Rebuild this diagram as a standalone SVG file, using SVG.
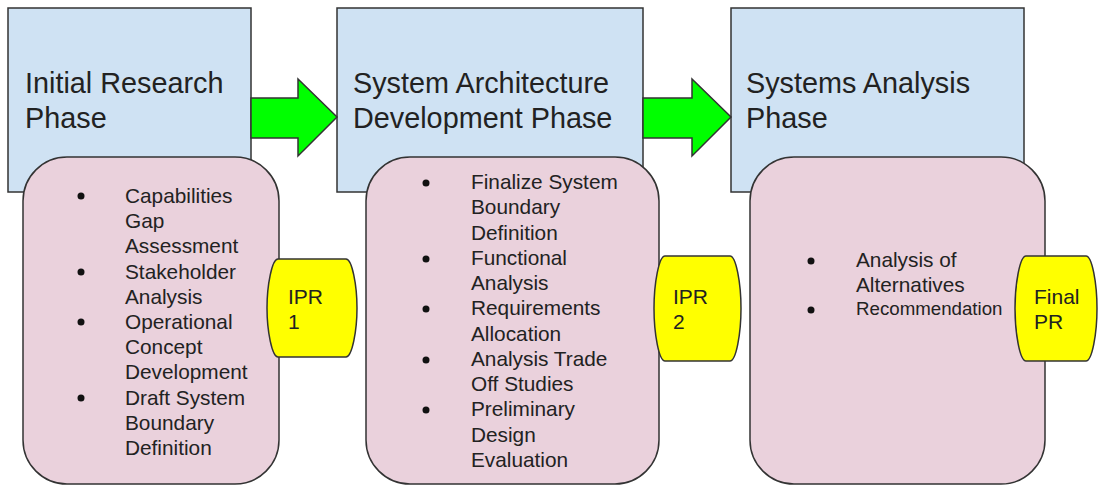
<svg xmlns="http://www.w3.org/2000/svg" width="1098" height="486" viewBox="0 0 1098 486">
<style>
.phase{fill:#cfe2f3;stroke:#333;stroke-width:1.5}
.task{fill:#ead1dc;stroke:#333;stroke-width:1.5}
.rev{fill:#ffff00;stroke:#333;stroke-width:1.5}
.arrow{fill:#00ff00;stroke:#333;stroke-width:1.5;stroke-linejoin:miter}
text{font-family:"Liberation Sans",Arial,sans-serif;fill:#222}
.title{font-size:28.8px}
.item{font-size:20.8px}
.small{font-size:18.7px}
.lab{font-size:21px}
.dot{fill:#111}
</style>
<rect width="1098" height="486" fill="#fff"/>
<g id="phase1">
<rect class="phase" x="8" y="8" width="243" height="184"/>
<text class="title" x="25" y="93">Initial Research</text>
<text class="title" x="25" y="128">Phase</text>
</g>
<g id="phase2">
<rect class="phase" x="337" y="8" width="306" height="184"/>
<text class="title" x="353" y="93">System Architecture</text>
<text class="title" x="353" y="128">Development Phase</text>
</g>
<g id="phase3">
<rect class="phase" x="731" y="8" width="293" height="184"/>
<text class="title" x="746" y="93">Systems Analysis</text>
<text class="title" x="746" y="128">Phase</text>
</g>
<g id="connectors">
<path class="arrow" d="M251,98 H298 V79 L337,117 L298,156 V138 H251 Z"/>
<path class="arrow" d="M643,98 H692 V79 L731,117 L692,156 V138 H643 Z"/>
</g>
<g id="tasks1">
<rect class="task" x="23" y="157" width="256" height="327" rx="44" ry="44"/>
<circle class="dot" cx="81" cy="196" r="3.5"/>
<circle class="dot" cx="81" cy="272" r="3.5"/>
<circle class="dot" cx="81" cy="322" r="3.5"/>
<circle class="dot" cx="81" cy="398" r="3.5"/>
<text class="item" x="125" y="203">Capabilities</text>
<text class="item" x="125" y="228">Gap</text>
<text class="item" x="125" y="253">Assessment</text>
<text class="item" x="125" y="279">Stakeholder</text>
<text class="item" x="125" y="304">Analysis</text>
<text class="item" x="125" y="329">Operational</text>
<text class="item" x="125" y="354">Concept</text>
<text class="item" x="125" y="379">Development</text>
<text class="item" x="125" y="405">Draft System</text>
<text class="item" x="125" y="430">Boundary</text>
<text class="item" x="125" y="455">Definition</text>
</g>
<g id="tasks2">
<rect class="task" x="366" y="157" width="293" height="327" rx="44" ry="44"/>
<circle class="dot" cx="426" cy="183" r="3.5"/>
<circle class="dot" cx="426" cy="259" r="3.5"/>
<circle class="dot" cx="426" cy="309" r="3.5"/>
<circle class="dot" cx="426" cy="360" r="3.5"/>
<circle class="dot" cx="426" cy="410" r="3.5"/>
<text class="item" x="471" y="189">Finalize System</text>
<text class="item" x="471" y="214">Boundary</text>
<text class="item" x="471" y="240">Definition</text>
<text class="item" x="471" y="265">Functional</text>
<text class="item" x="471" y="290">Analysis</text>
<text class="item" x="471" y="315">Requirements</text>
<text class="item" x="471" y="341">Allocation</text>
<text class="item" x="471" y="366">Analysis Trade</text>
<text class="item" x="471" y="391">Off Studies</text>
<text class="item" x="471" y="416">Preliminary</text>
<text class="item" x="471" y="442">Design</text>
<text class="item" x="471" y="467">Evaluation</text>
</g>
<g id="tasks3">
<rect class="task" x="750" y="157" width="295" height="327" rx="44" ry="44"/>
<circle class="dot" cx="811" cy="261" r="3.5"/>
<circle class="dot" cx="811" cy="310" r="3.5"/>
<text class="item" x="856" y="267">Analysis of</text>
<text class="item" x="856" y="292">Alternatives</text>
<text class="small" x="856" y="315">Recommendation</text>
</g>
<g id="ipr1">
<path class="rev" d="M278,259 H346 C352,259 357,285 357,308 C357,331 352,357 346,357 H278 C272,357 267,331 267,308 C267,285 272,259 278,259 Z"/>
<text class="lab" x="288" y="304">IPR</text>
<text class="lab" x="288" y="329">1</text>
</g>
<g id="ipr2">
<path class="rev" d="M665,256 H730 C736,256 741,283 741,308.5 C741,334 736,361 730,361 H665 C659,361 654,334 654,308.5 C654,283 659,256 665,256 Z"/>
<text class="lab" x="673" y="304">IPR</text>
<text class="lab" x="673" y="329">2</text>
</g>
<g id="finalpr">
<path class="rev" d="M1026,256 H1086 C1092,256 1097,283 1097,308.5 C1097,334 1092,361 1086,361 H1026 C1020,361 1015,334 1015,308.5 C1015,283 1020,256 1026,256 Z"/>
<text class="lab" x="1034" y="304">Final</text>
<text class="lab" x="1034" y="329">PR</text>
</g>
</svg>
